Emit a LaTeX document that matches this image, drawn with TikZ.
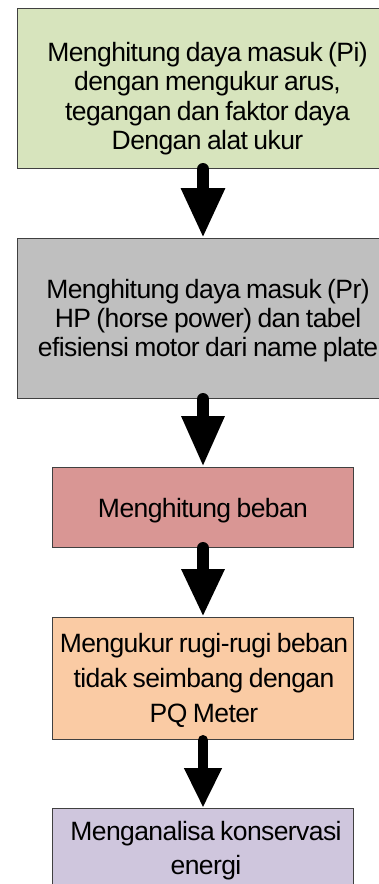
\documentclass[tikz,border=0pt]{standalone}
\usepackage{fontspec}
\setmainfont{Liberation Sans}[LetterSpace=-2.2, WordSpace=0.8]
\usetikzlibrary{arrows.meta}
\definecolor{cgreen}{HTML}{D7E4BD}
\definecolor{cgray}{HTML}{BFBFBF}
\definecolor{cred}{HTML}{D99694}
\definecolor{corange}{HTML}{FACBA4}
\definecolor{cpurple}{HTML}{CFC6DD}
\definecolor{cborder}{HTML}{404040}
\tikzset{
  box/.style={draw=cborder, line width=1pt, inner sep=0pt, anchor=north west},
  txt/.style={inner sep=0pt, anchor=base, text=black},
  arr/.style={line width=#1, line cap=round},
}
\begin{document}
\begin{tikzpicture}[x=1pt,y=-1pt]
\useasboundingbox (0,0) rectangle (379,884);
\clip (0,0) rectangle (379,884);
\coordinate (ax) at (203,0);
% boxes
\node[box, fill=cgreen,  minimum width=383pt, minimum height=160pt] (b1) at (17,8) {};
\node[box, fill=cgray,   minimum width=383pt, minimum height=160pt] (b2) at (17,238) {};
\node[box, fill=cred,    minimum width=301pt, minimum height=80pt]  (b3) at (52,467) {};
\node[box, fill=corange, minimum width=301pt, minimum height=122pt] (b4) at (52,617) {};
\node[box, fill=cpurple, minimum width=301pt, minimum height=120pt] (b5) at (52,808) {};
% texts
\node[txt, font=\fontsize{26.5}{29.6}\selectfont] (t1) at (207.5,61)
  {\begin{tabular}[t]{@{}c@{}}Menghitung daya masuk (Pi)\\dengan mengukur arus,\\tegangan dan faktor daya\\Dengan alat ukur\end{tabular}};
\node[txt, font=\fontsize{26.5}{29}\selectfont] (t2) at (208,298)
  {\begin{tabular}[t]{@{}c@{}}Menghitung daya masuk (Pr)\\HP (horse power) dan tabel\\efisiensi motor dari name plate\end{tabular}};
\node[txt, font=\fontsize{26.5}{29}\selectfont] (t3) at (203,517) {Menghitung beban};
\node[txt, font=\fontsize{26.5}{35}\selectfont] (t4) at (204,652)
  {\begin{tabular}[t]{@{}c@{}}Mengukur rugi-rugi beban\\tidak seimbang dengan\\PQ Meter\end{tabular}};
\node[txt, font=\fontsize{26.5}{34}\selectfont] (t5) at (206,840)
  {\begin{tabular}[t]{@{}c@{}}Menganalisa konservasi\\energi\end{tabular}};
% arrows
\draw[arr=12pt, -{Triangle[length=50pt,width=41pt]}] (b1.south -| ax) -- (b2.north -| ax);
\draw[arr=12pt, -{Triangle[length=51pt,width=40pt]}] (b2.south -| ax) -- (b3.north -| ax);
\draw[arr=12pt, -{Triangle[length=48pt,width=40pt]}] (b3.south -| ax) -- (b4.north -| ax);
\draw[arr=10pt, -{Triangle[length=40pt,width=35pt]}] (b4.south -| ax) -- (b5.north -| ax);
\end{tikzpicture}
\end{document}
